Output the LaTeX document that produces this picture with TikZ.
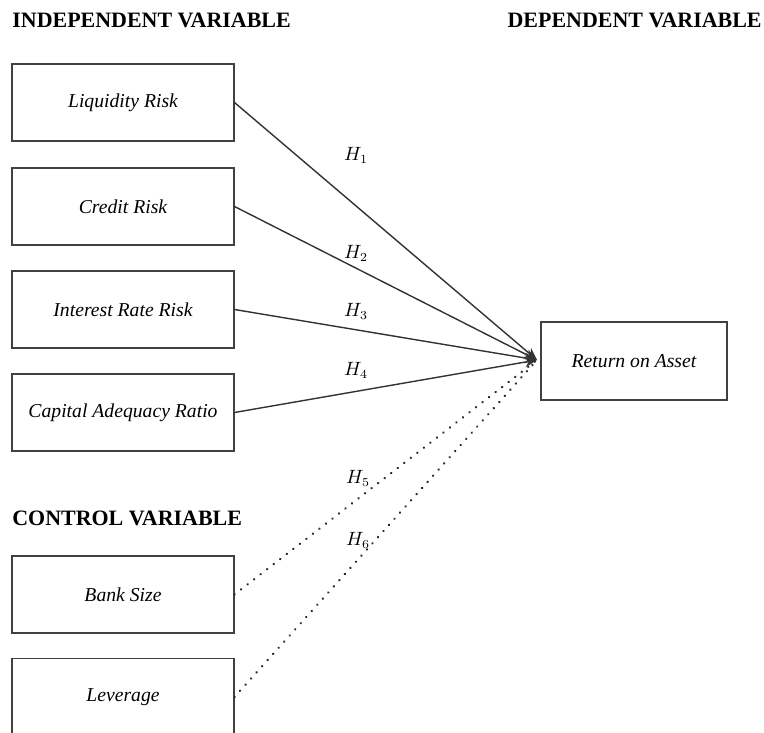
\documentclass[tikz,border=0pt]{standalone}
\usepackage{fontspec}
\setmainfont{Liberation Serif}
\usetikzlibrary{arrows.meta,positioning}

\begin{document}
\begin{tikzpicture}[x=0.02cm, y=-0.02cm,
    varbox/.style={rectangle, draw=black!75, line width=0.6pt, minimum width=4.44cm, minimum height=1.54cm, font=\fontsize{11.2}{13}\selectfont\itshape},
    heading/.style={font=\fontsize{12.5}{14}\selectfont\bfseries, inner sep=0pt},
    hyp/.style={font=\fontsize{10.5}{12}\selectfont},
    link/.style={draw=black!80, line width=0.8pt, -{Stealth[length=7pt,width=6pt]}},
    ctrl/.style={draw=black!85, line width=1.4pt, dash pattern=on 0.1pt off 4.6pt, line cap=round}
]
\useasboundingbox (0,0) rectangle (764,733);

% Headings
\node[heading, anchor=west] (hind) at (12,20) {INDEPENDENT VARIABLE};
\node[heading, anchor=east] (hdep) at (762,20) {DEPENDENT VARIABLE};
\node[heading, anchor=west] (hctl) at (12,518) {CONTROL VARIABLE};

% Independent variables
\node[varbox] (liq) at (123,102.5) {Liquidity Risk};
\node[varbox] (cred) at (123,206.5) {Credit Risk};
\node[varbox] (irr) at (123,309.5) {Interest Rate Risk};
\node[varbox] (car) at (123,412.5) {Capital Adequacy Ratio};

% Control variables
\node[varbox] (size) at (123,594.5) {Bank Size};
\node[varbox] (lev) at (123,697) {Leverage};

% Dependent variable
\node[varbox, minimum width=3.72cm, minimum height=1.56cm] (roa) at (634,361) {Return on Asset};
\coordinate (tip) at (537,360);

% Hypotheses
\draw[link] (liq.east) -- (tip);
\draw[link] (cred.east) -- (tip);
\draw[link] (irr.east) -- (tip);
\draw[link] (car.east) -- (tip);
\draw[ctrl] (size.east) -- (tip);
\draw[ctrl] (lev.east) -- (tip);

\node[hyp] (h1) at (356,155) {$H_1$};
\node[hyp] (h2) at (356,253) {$H_2$};
\node[hyp] (h3) at (356,311) {$H_3$};
\node[hyp] (h4) at (356,370) {$H_4$};
\node[hyp] (h5) at (358,478) {$H_5$};
\node[hyp] (h6) at (358,540) {$H_6$};

\end{tikzpicture}
\end{document}
